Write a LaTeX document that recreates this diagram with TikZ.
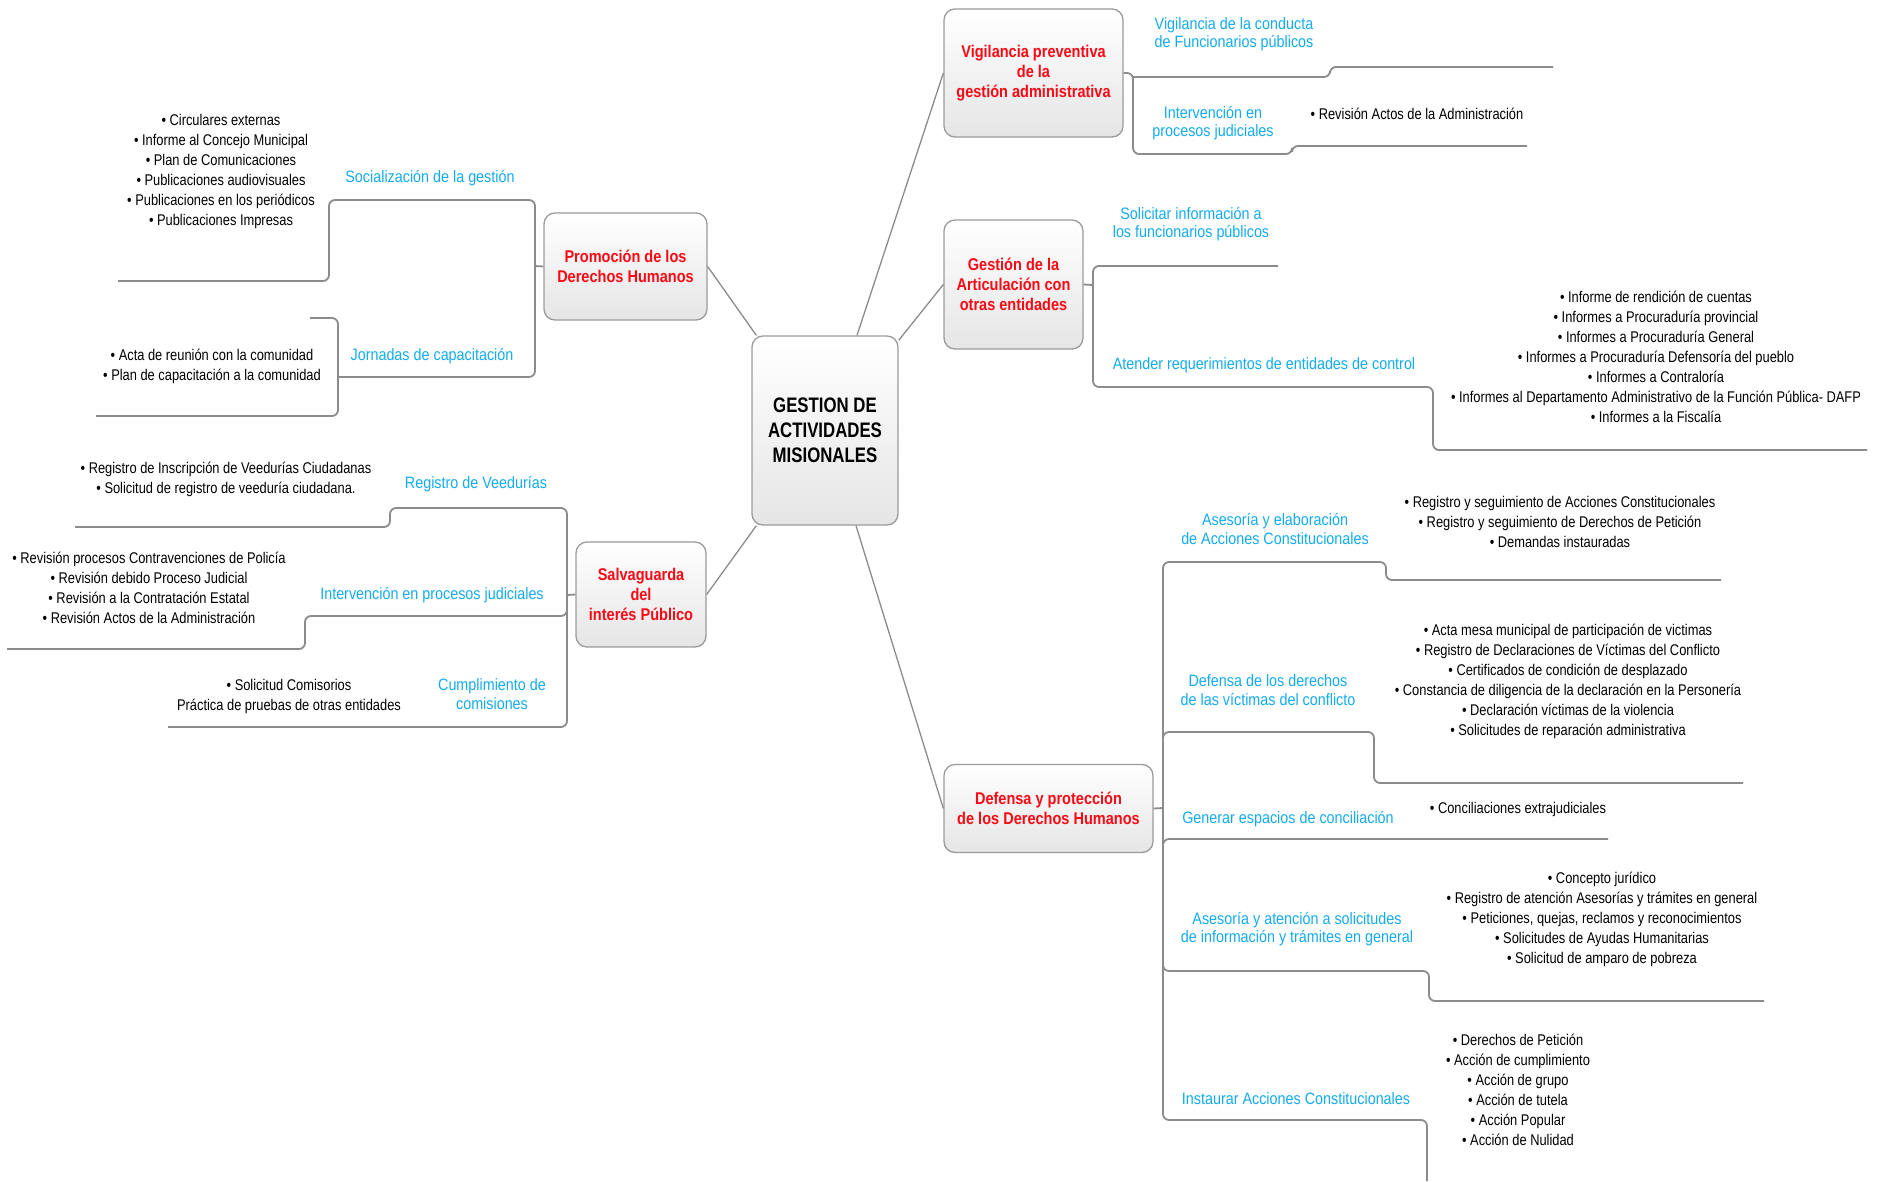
\documentclass[tikz,border=0pt]{standalone}
\usepackage{fontspec}
\newfontfamily\itemfont[FakeStretch=0.83]{Liberation Sans}
\newfontfamily\lblfont[FakeStretch=0.87]{Liberation Sans}
\newfontfamily\boxfont[FakeStretch=0.855]{Liberation Sans}
\newfontfamily\cenfont[FakeStretch=0.8]{Liberation Sans}
\usetikzlibrary{calc}
\definecolor{mred}{RGB}{250,10,20}
\definecolor{mblue}{RGB}{20,172,238}
\definecolor{lgray}{RGB}{140,140,140}
\definecolor{bgray}{RGB}{155,155,155}
\begin{document}
\begin{tikzpicture}[x=1pt,y=-1pt,
  box/.style={draw=bgray, line width=1.3pt, rounded corners=11pt, top color=white, bottom color=black!10, inner sep=0pt, align=center, font=\boxfont\bfseries\fontsize{17}{20}\selectfont, text=mred},
  cbox/.style={box, font=\cenfont\bfseries\fontsize{21}{25}\selectfont, text=black},
  lbl/.style={text=mblue, align=center, inner sep=0pt, font=\lblfont\fontsize{16.5}{18.5}\selectfont},
  items/.style={text=black, align=center, inner sep=0pt, font=\itemfont\fontsize{15.5}{20}\selectfont},
  br/.style={draw=lgray, line width=1.8pt, rounded corners=6pt},
  cn/.style={draw=lgray, line width=1.3pt}]
\fill[white] (0,0) rectangle (1887,1181);
\useasboundingbox (0,0) rectangle (1887,1181);

% main boxes
\node[cbox, minimum width=146pt, minimum height=189pt] (c) at (825,430.5) {GESTION DE\\ACTIVIDADES\\MISIONALES};
\node[box, minimum width=163pt, minimum height=107pt] (promo) at (625.5,266.5) {Promoción de los\\Derechos Humanos};
\node[box, minimum width=179pt, minimum height=128pt] (vig) at (1033.5,73) {Vigilancia preventiva\\de la\\gestión administrativa};
\node[box, minimum width=139pt, minimum height=129pt] (ges) at (1013.5,284.5) {Gestión de la\\Articulación con\\otras entidades};
\node[box, minimum width=130pt, minimum height=105pt] (salv) at (641,594.5) {Salvaguarda\\del\\interés Público};
\node[box, minimum width=209pt, minimum height=88pt] (def) at (1048.5,808.5) {Defensa y protección\\de los Derechos Humanos};

% connectors from centre
\draw[cn] ($(c.north west)+(5,0)$) -- (promo.east);
\draw[cn] ($(c.north)+(32,0)$) -- (vig.west);
\draw[cn] ($(c.north east)+(0,5)$) -- (ges.west);
\draw[cn] ($(c.south west)+(5,0)$) -- (salv.east);
\draw[cn] ($(c.south)+(31,0)$) -- (def.west);

% ---------- Promocion branch ----------
\draw[br] (promo.west) -- (535,266);
\draw[br] (118,281) -- (329,281) -- (329,200) -- (535,200) -- (535,377) -- (338,377);
\draw[br] (310,318) -- (338,318) -- (338,416) -- (96,416);
\node[lbl] (l1) at (430,178) {Socialización de la gestión};
\node[lbl] (l2) at (432,356) {Jornadas de capacitación};
\node[items] (i1) at (221,171) {• Circulares externas\\• Informe al Concejo Municipal\\• Plan de Comunicaciones\\• Publicaciones audiovisuales\\• Publicaciones en los periódicos\\• Publicaciones Impresas};
\node[items] (i2) at (212,366) {• Acta de reunión con la comunidad\\• Plan de capacitación a la comunidad};

% ---------- Salvaguarda branch ----------
\draw[br] (salv.west) -- (567,595);
\draw[br] (75,527) -- (390,527) -- (390,508) -- (567,508) -- (567,727) -- (168,727);
\draw[br] (567,600) |- (305,616) -- (305,649) -- (7,649);
\node[lbl] (l3) at (476,484) {Registro de Veedurías};
\node[lbl] (l4) at (432,595) {Intervención en procesos judiciales};
\node[lbl] (l5) at (492,694) {Cumplimiento de\\comisiones};
\node[items] (i3) at (226,479) {• Registro de Inscripción de Veedurías Ciudadanas\\• Solicitud de registro de veeduría ciudadana.};
\node[items] (i4) at (149,588) {• Revisión procesos Contravenciones de Policía\\• Revisión debido Proceso Judicial\\• Revisión a la Contratación Estatal\\• Revisión Actos de la Administración};
\node[items] (i5) at (289,696) {• Solicitud Comisorios\\Práctica de pruebas de otras entidades};

% ---------- Vigilancia branch ----------
\draw[br] (vig.east) -- (1133,73) -- (1133,154) -- (1292,154) -- (1292,146) -- (1527,146);
\draw[br] (1133,77) -- (1330,77) -- (1330,67) -- (1553,67);
\node[lbl] (l6) at (1234,34) {Vigilancia de la conducta\\de Funcionarios públicos};
\node[lbl] (l7) at (1213,123) {Intervención en\\procesos judiciales};
\node[items] (i6) at (1417,114) {• Revisión Actos de la Administración};

% ---------- Gestion branch ----------
\draw[br] (ges.east) -- (1093,285);
\draw[br] (1278,266) -- (1093,266) -- (1093,387) -- (1433,387) -- (1433,450) -- (1867,450);
\node[lbl] (l8) at (1191,224) {Solicitar información a\\los funcionarios públicos};
\node[lbl] (l9) at (1264,365) {Atender requerimientos de entidades de control};
\node[items] (i7) at (1656,357) {• Informe de rendición de cuentas\\• Informes a Procuraduría provincial\\• Informes a Procuraduría General\\• Informes a Procuraduría Defensoría del pueblo\\• Informes a Contraloría\\• Informes al Departamento Administrativo de la Función Pública- DAFP\\• Informes a la Fiscalía};

% ---------- Defensa branch ----------
\draw[br] (def.east) -- (1163,808);
\draw[br] (1721,580) -- (1386,580) -- (1386,562) -- (1163,562) -- (1163,1120) -- (1427,1120) -- (1427,1181);
\draw[br] (1163,748) |- (1374,732) -- (1374,783) -- (1743,783);
\draw[br] (1163,855) |- (1608,839);
\draw[br] (1163,955) |- (1429,971) -- (1429,1001) -- (1764,1001);
\node[lbl] (l10) at (1275,529) {Asesoría y elaboración\\de Acciones Constitucionales};
\node[lbl] (l11) at (1268,690) {Defensa de los derechos\\de las víctimas del conflicto};
\node[lbl] (l12) at (1288,819) {Generar espacios de conciliación};
\node[lbl] (l13) at (1297,929) {Asesoría y atención a solicitudes\\de información y trámites en general};
\node[lbl] (l14) at (1296,1099) {Instaurar Acciones Constitucionales};
\node[items] (i8) at (1560,522) {• Registro y seguimiento de Acciones Constitucionales\\• Registro y seguimiento de Derechos de Petición\\• Demandas instauradas};
\node[items] (i9) at (1568,681) {• Acta mesa municipal de participación de victimas\\• Registro de Declaraciones de Víctimas del Conflicto\\• Certificados de condición de desplazado\\• Constancia de diligencia de la declaración en la Personería\\• Declaración víctimas de la violencia\\• Solicitudes de reparación administrativa};
\node[items] (i10) at (1518,809) {• Conciliaciones extrajudiciales};
\node[items] (i11) at (1602,919) {• Concepto jurídico\\• Registro de atención Asesorías y trámites en general\\• Peticiones, quejas, reclamos y reconocimientos\\• Solicitudes de Ayudas Humanitarias\\• Solicitud de amparo de pobreza};
\node[items] (i12) at (1518,1090) {• Derechos de Petición\\• Acción de cumplimiento\\• Acción de grupo\\• Acción de tutela\\• Acción Popular\\• Acción de Nulidad};
\end{tikzpicture}
\end{document}
